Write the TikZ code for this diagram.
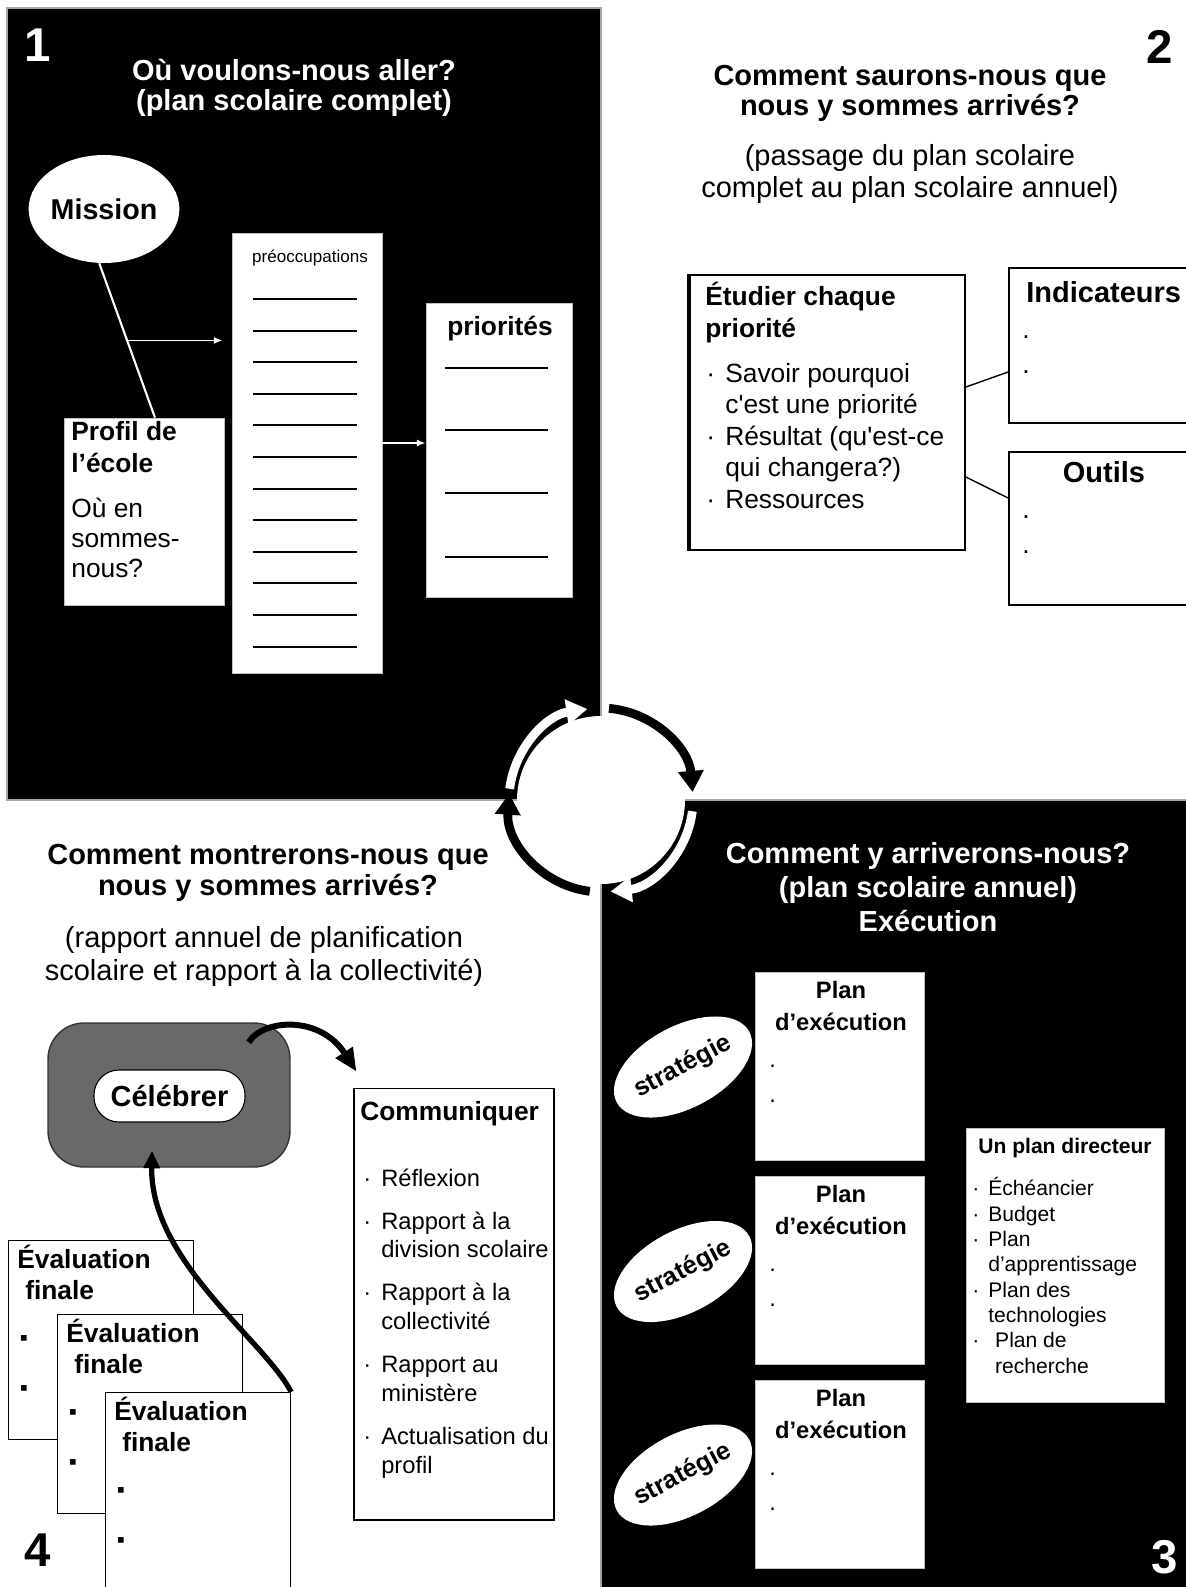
\documentclass[tikz,border=0pt]{standalone}
\usepackage{fontspec}
\setmainfont{Liberation Sans}
\usetikzlibrary{arrows.meta,shapes.geometric}
\lineskiplimit=-40pt
\definecolor{celebgray}{RGB}{105,105,105}
\newcommand\dotitem[1]{\makebox[#1][l]{·}}

\tikzset{
  darkquad/.style={fill=black,draw=gray!70,line width=0.6pt},
  whitebox/.style={rectangle,fill=white,draw=gray!50,line width=0.4pt},
  linebox/.style={rectangle,fill=white,draw=black,line width=1pt},
  blankline/.style={line width=1.2pt},
  bignum/.style={font=\bfseries\fontsize{27}{27}\selectfont},
  heading/.style={font=\bfseries\fontsize{16.5}{17}\selectfont,align=center,anchor=base},
  subheading/.style={font=\fontsize{16.5}{18.2}\selectfont,align=center,anchor=base},
  cycarrow/.style={line width=5pt,-{Triangle[length=12pt,width=14pt]}},
  thinarrow/.style={white,line width=1pt,-{Latex[length=5pt,width=4pt]}},
}

\begin{document}
\begin{tikzpicture}[x=0.02cm,y=-0.02cm,every node/.style={inner sep=0pt}]
\useasboundingbox (0,0) rectangle (1186,1587);
\clip (0,0) rectangle (1186,1587);
\fill[white] (0,0) rectangle (1186,1587);

% 1 : plan scolaire complet (multi-line nodes sit on their last line)
\filldraw[darkquad] (7,8) rectangle (601,800);
\node[bignum,text=white] (one) at (38,45) {1};
\node[heading,text=white] (q1title) at (294,110) {Où voulons-nous aller?\\(plan scolaire complet)};
\node[ellipse,fill=white,minimum width=2.92cm,minimum height=2.16cm,font=\bfseries\fontsize{16.3}{16.3}\selectfont] (mission) at (104,209) {Mission};
\node[whitebox,minimum width=3.2cm,minimum height=3.74cm] (profil) at (144,511.5) {};
\node[anchor=base west,align=left,font=\bfseries\fontsize{15}{18.1}\selectfont] (profilhead) at (71,472) {Profil de\\l’école};
\node[anchor=base west,align=left,font=\fontsize{15}{17}\selectfont] (profiltext) at (71,577) {Où en\\sommes-\\nous?};

\node[whitebox,minimum width=3cm,minimum height=8.8cm] (preocc) at (307,453) {};
\node[anchor=base,font=\fontsize{9.7}{9.7}\selectfont] (preocclabel) at (310,262) {préoccupations};
\foreach \i in {0,...,11}
  \draw[blankline] (253,{299+31.6*\i}) -- (357,{299+31.6*\i});

\node[whitebox,minimum width=2.92cm,minimum height=5.88cm] (prior) at (499,450) {};
\node[anchor=base,font=\bfseries\fontsize{15}{15}\selectfont] (priorlabel) at (500,335) {priorités};
\foreach \y in {368,430,493,557}
  \draw[blankline] (445,\y) -- (548,\y);

\draw[white,line width=1.2pt] (mission.265) -- coordinate[pos=0.5] (fork) ([xshift=0.22cm]profil.north);
\draw[thinarrow,shorten >=0.18cm] (fork) -- (fork -| preocc.west);
\draw[thinarrow] ([yshift=0.2cm]preocc.east) -- ([yshift=0.2cm]preocc.east -| prior.west);

% 2 : plan scolaire annuel
\node[bignum] (two) at (1160,47) {2};
\node[heading] (q2title) at (910,115) {Comment saurons-nous que\\nous y sommes arrivés?};
\node[subheading] (q2sub) at (910,197) {(passage du plan scolaire\\complet au plan scolaire annuel)};
\node[linebox,minimum width=5.5cm,minimum height=5.5cm] (etudier) at (827.5,412.5) {};
\draw[line width=2.4pt] (etudier.north west) -- (etudier.south west);
\node[anchor=base west,align=left,font=\bfseries\fontsize{15}{18.1}\selectfont] (etudierhead) at (705,337) {Étudier chaque\\priorité};
\node[anchor=base west,align=left,font=\fontsize{15}{17.9}\selectfont] (etudierlist) at (706,508) {\dotitem{10.8pt}Savoir pourquoi\\\hspace*{10.8pt}c\textquotesingle est une priorité\\\dotitem{10.8pt}Résultat (qu\textquotesingle est-ce\\\hspace*{10.8pt}qui changera?)\\\dotitem{10.8pt}Ressources};

\node[linebox,minimum width=3.82cm,minimum height=3.1cm] (indic) at (1104.5,345.5) {};
\node[anchor=base west,font=\bfseries\fontsize{16.5}{16.5}\selectfont] (indichead) at (1026,302) {Indicateurs};
\node[anchor=base west,align=left,font=\fontsize{15}{19.8}\selectfont] (indicdots) at (1022,373) {.\\.};
\node[linebox,minimum width=3.82cm,minimum height=3.06cm] (outils) at (1104.5,528.5) {};
\node[anchor=base,font=\bfseries\fontsize{16.5}{16.5}\selectfont] (outilshead) at (1104,482) {Outils};
\node[anchor=base west,align=left,font=\fontsize{15}{19.8}\selectfont] (outilsdots) at (1022,553) {.\\.};
\draw[line width=0.8pt] ([yshift=0.51cm]etudier.east) -- ([yshift=-0.53cm]indic.west);
\draw[line width=0.8pt] ([yshift=-1.29cm]etudier.east) -- ([yshift=0.61cm]outils.west);

% 3 : execution
\filldraw[darkquad] (601,800) rectangle (1190,1590);
\node[heading,text=white,font=\bfseries\fontsize{16.5}{19.3}\selectfont] (q3title) at (928,931) {Comment y arriverons-nous?\\(plan scolaire annuel)\\Exécution};
\foreach \i/\y in {1/1066,2/1270.5,3/1474}{
  \node[whitebox,minimum width=3.38cm,minimum height=3.76cm] (plan\i) at (839.5,\y) {};
  \node[anchor=base,align=center,font=\bfseries\fontsize{13.5}{18.1}\selectfont] (planhead\i) at (841,\y-36) {Plan\\d’exécution};
  \node[anchor=base west,align=left,font=\fontsize{13.5}{19.8}\selectfont] (plandots\i) at (769,\y+36) {.\\.};
  \node[ellipse,fill=white,minimum width=2.96cm,minimum height=1.64cm,rotate=28,font=\bfseries\fontsize{14.5}{14.5}\selectfont] (strat\i) at (683,\y+1) {stratégie};
}
\node[whitebox,minimum width=3.96cm,minimum height=5.48cm] (directeur) at (1065,1265) {};
\node[anchor=base,font=\bfseries\fontsize{12}{12}\selectfont] (directeurhead) at (1065,1153) {Un plan directeur};
\node[anchor=base west,align=left,font=\fontsize{12}{14.4}\selectfont] (directeurlist) at (972,1373) {\dotitem{9.1pt}Échéancier\\\dotitem{9.1pt}Budget\\\dotitem{9.1pt}Plan\\\hspace*{9.1pt}d’apprentissage\\\dotitem{9.1pt}Plan des\\\hspace*{9.1pt}technologies\\\dotitem{13pt}Plan de\\\hspace*{13pt}recherche};
\node[bignum,text=white] (three) at (1165,1557) {3};

% 4 : rapport annuel
\node[heading,font=\bfseries\fontsize{16.5}{17.6}\selectfont] (q4title) at (268,895) {Comment montrerons-nous que\\nous y sommes arrivés?};
\node[subheading,font=\fontsize{16.5}{18.7}\selectfont] (q4sub) at (264,980) {(rapport annuel de planification\\scolaire et rapport à la collectivité)};
\node[rectangle,rounded corners=0.72cm,fill=celebgray,draw=black!80,line width=0.8pt,minimum width=4.84cm,minimum height=2.88cm] (celeb) at (169,1095) {};
\node[rectangle,rounded corners=0.5cm,fill=white,draw=black,line width=0.6pt,minimum width=3.02cm,minimum height=1.04cm,font=\bfseries\fontsize{16.5}{16.5}\selectfont] (celebrer) at (169.5,1096) {Célébrer};

\node[linebox,line width=0.6pt,minimum width=4cm,minimum height=8.64cm] (comm) at (454,1304) {};
\node[anchor=base west,font=\bfseries\fontsize{15}{15}\selectfont] (commhead) at (360,1120) {Communiquer};
\node[anchor=base west,align=left,font=\fontsize{13.5}{16.4}\selectfont] (commlist) at (363,1473) {\dotitem{10.2pt}Réflexion\\[8pt]\dotitem{10.2pt}Rapport à la\\\hspace*{10.2pt}division scolaire\\[8pt]\dotitem{10.2pt}Rapport à la\\\hspace*{10.2pt}collectivité\\[8pt]\dotitem{10.2pt}Rapport au\\\hspace*{10.2pt}ministère\\[8pt]\dotitem{10.2pt}Actualisation du\\\hspace*{10.2pt}profil};

\foreach \i/\x/\y in {1/8/1240,2/57/1314,3/105/1392}{
  \node[linebox,line width=0.7pt,anchor=north west,minimum width=3.7cm,minimum height=3.98cm] (eval\i) at (\x,\y) {};
  \node[anchor=base west,align=left,font=\bfseries\fontsize{15}{17.6}\selectfont] (evalhead\i) at (\x+9,\y+59) {Évaluation\\\hspace*{4.5pt}finale};
  \node[font=\fontsize{13}{13}\selectfont] (evalbulA\i) at (\x+16,\y+101) {▪};
  \node[font=\fontsize{13}{13}\selectfont] (evalbulB\i) at (\x+16,\y+151) {▪};
}
\node[bignum] (four) at (38,1550) {4};

\draw[line width=3.4pt,-{Triangle[length=13pt,width=11pt]}] ([xshift=-0.84cm,yshift=-0.4cm]celeb.north east) .. controls +(14,-23) and +(-37,-57) .. ([xshift=0.06cm,yshift=0.32cm]comm.north west);
\draw[line width=3pt,-{Triangle[length=10pt,width=9pt]}] (eval3.north east) .. controls +(-27,-52) and +(-2,110) .. ([xshift=-0.34cm,yshift=0.34cm]celeb.south);

% cycle
\coordinate (hub) at (601,800);
\fill[white] (hub) circle[radius=84];
\draw[cycarrow,white] (hub) ++(-173:92) arc[start angle=-173,end angle=-98.5,radius=92];
\draw[cycarrow,black] (hub) ++(-85:92) arc[start angle=-85,end angle=-5,radius=92];
\draw[cycarrow,white] (hub) ++(7:92) arc[start angle=7,end angle=84,radius=92];
\draw[cycarrow,black] (hub) ++(97:92) arc[start angle=97,end angle=184,radius=92];
\end{tikzpicture}
\end{document}
